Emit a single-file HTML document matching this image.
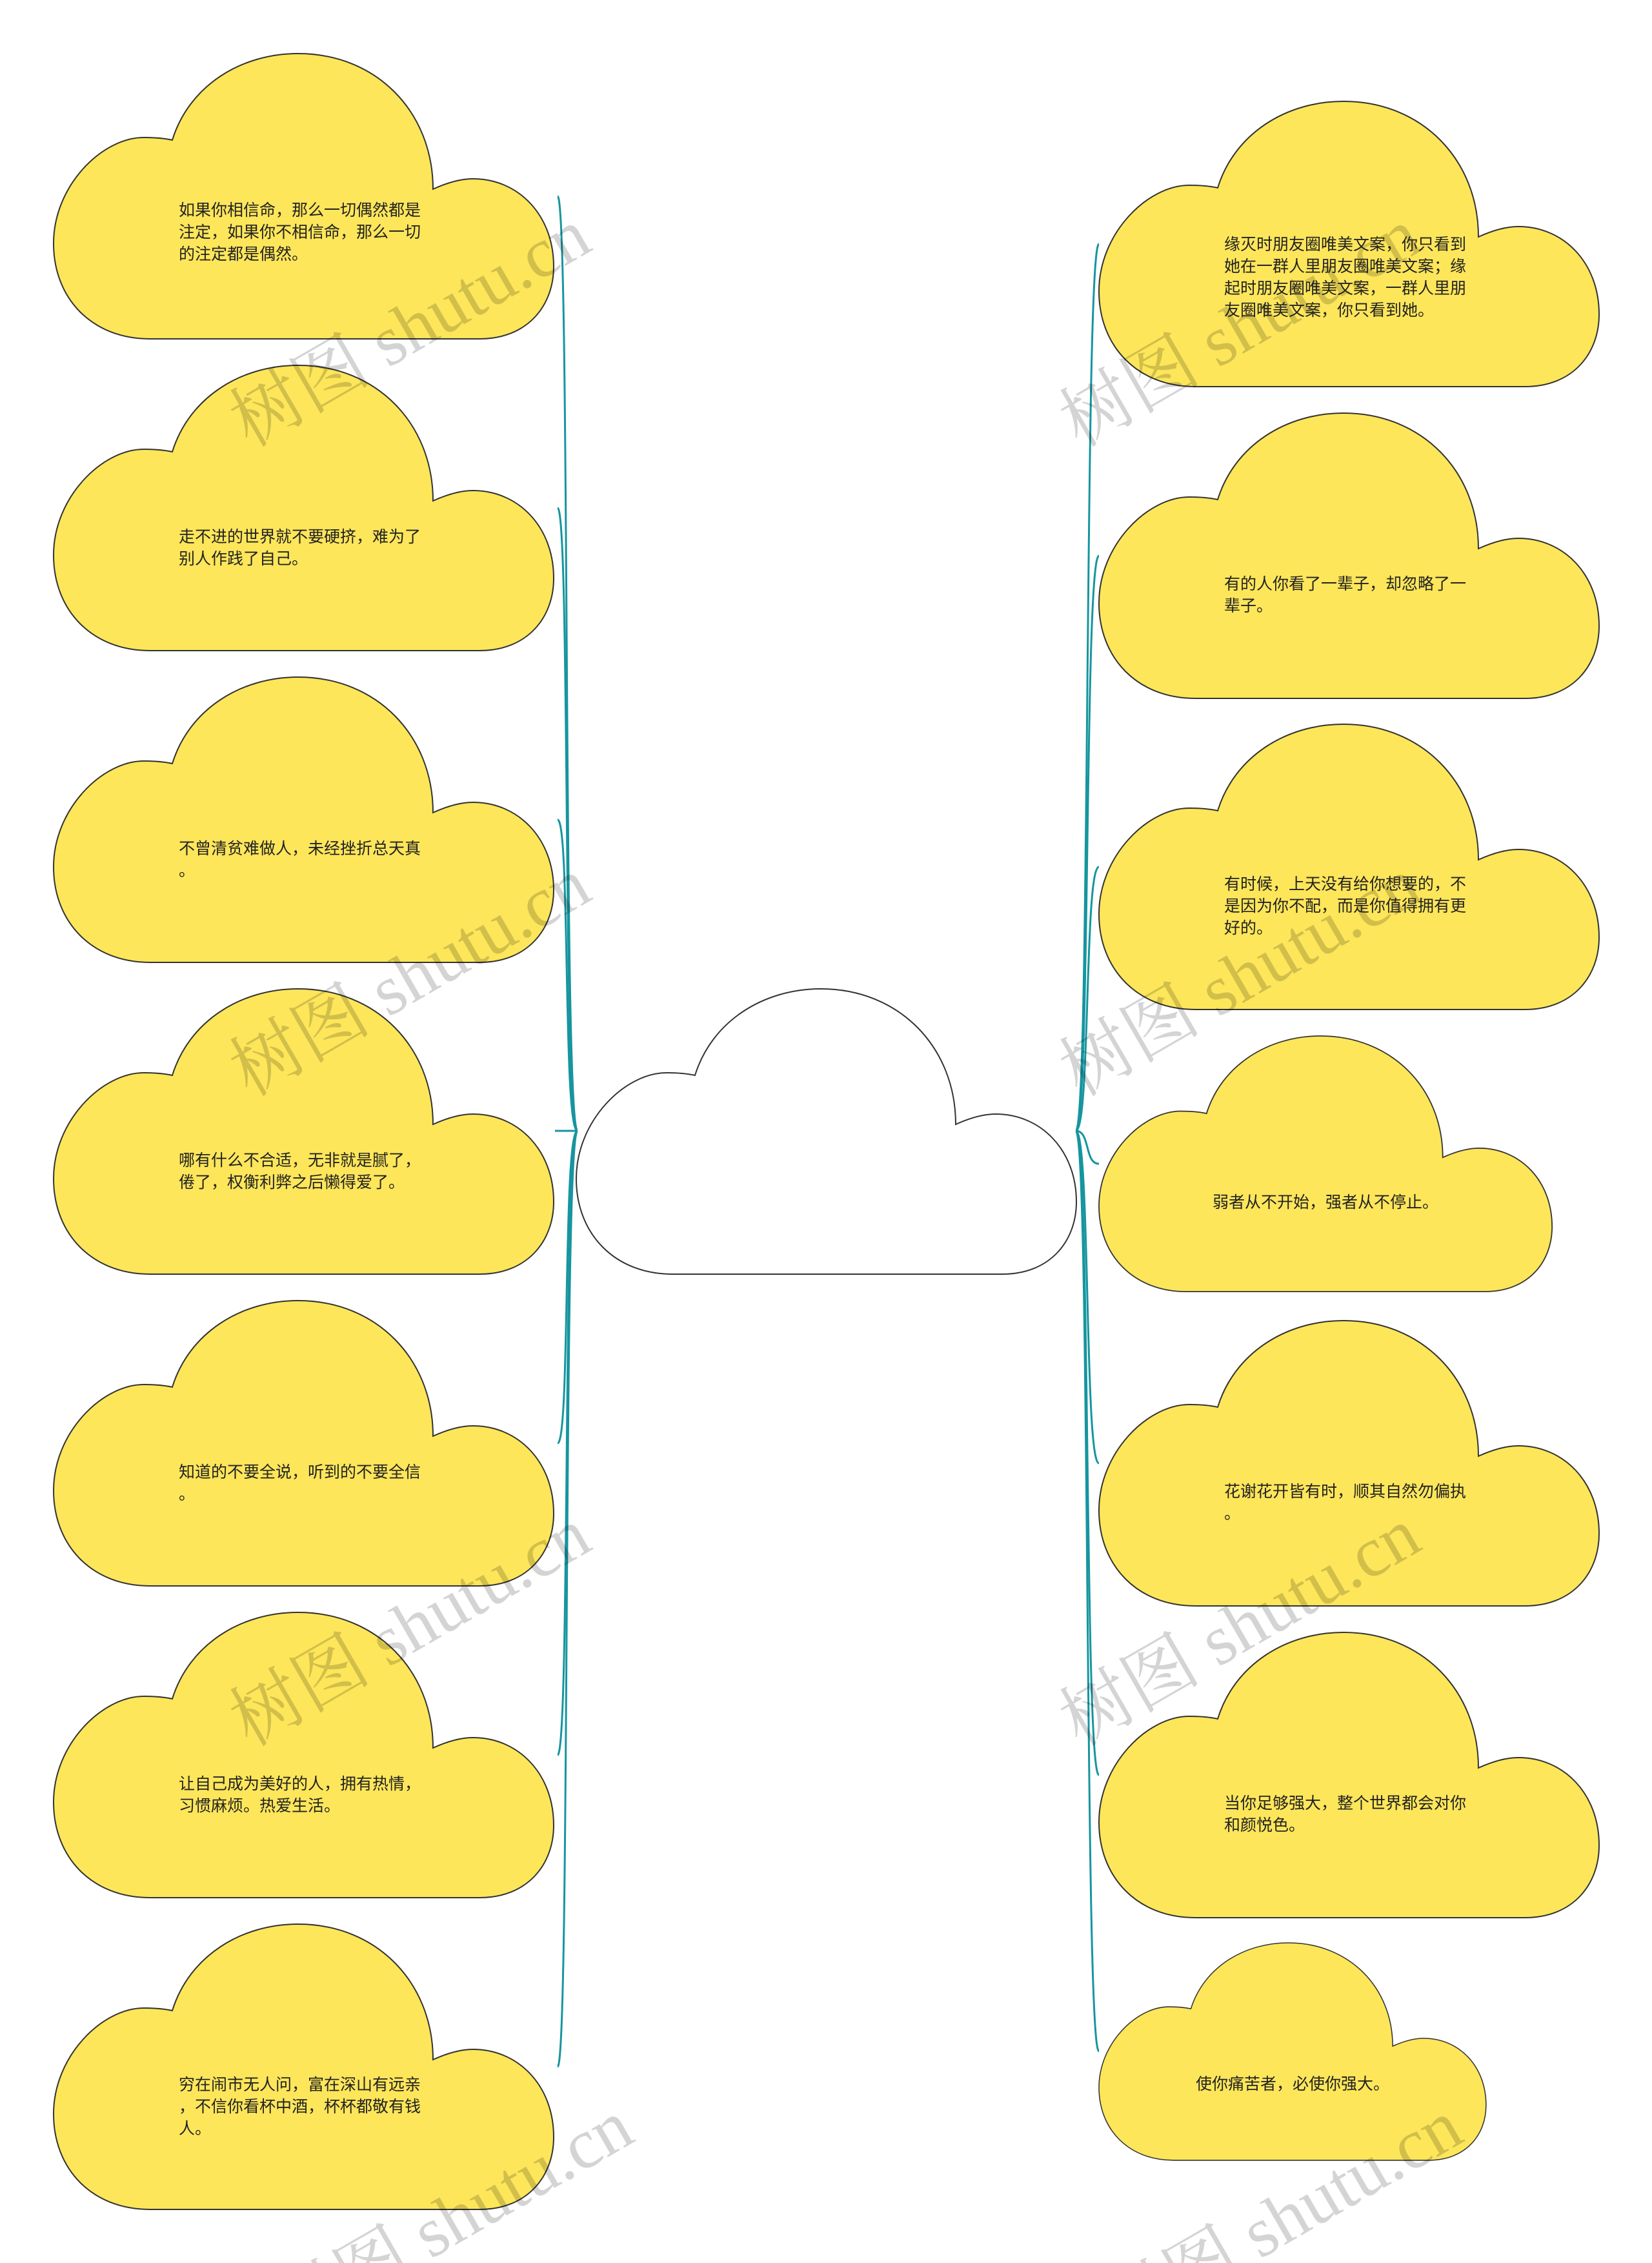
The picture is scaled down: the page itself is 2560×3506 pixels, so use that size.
<!DOCTYPE html>
<html><head><meta charset="utf-8">
<style>
html,body{margin:0;padding:0;background:#fff;}
body{width:2560px;height:3506px;position:relative;overflow:hidden;}
svg{position:absolute;left:0;top:0;}
.t{position:absolute;font-family:"Liberation Sans","Noto Sans CJK SC",sans-serif;font-size:25px;line-height:34px;color:#222;white-space:nowrap;transform:translateY(-50%);}
</style></head><body>
<svg width="2560" height="3506" viewBox="0 0 2560 3506">
<defs>
<path id="cl" d="M149,442 C60,442 0,380 0,294 C0,205 75,130 140,130 C160,130 175,132 184,134 C210,50 290,0 379,0 C500,0 588,90 588,210 C610,200 630,194 650,194 C720,194 775,250 775,330 C775,390 735,442 660,442 Z"/>
</defs>
<g fill="none" stroke="#16959f" stroke-width="3">
<path d="M895,1752 C872,1752 884,304 864,304"/>
<path d="M895,1752 C872,1752 884,787 864,787"/>
<path d="M895,1752 C872,1752 884,1270 864,1270"/>
<path d="M860,1752 L895,1752"/>
<path d="M895,1752 C872,1752 884,2236 864,2236"/>
<path d="M895,1752 C872,1752 884,2719 864,2719"/>
<path d="M895,1752 C872,1752 884,3202 864,3202"/>
<path d="M1667,1752 C1690,1752 1680,378 1703,378"/>
<path d="M1667,1752 C1690,1752 1680,861 1703,861"/>
<path d="M1667,1752 C1690,1752 1680,1343 1703,1343"/>
<path d="M1667,1752 C1690,1752 1680,1803 1703,1803"/>
<path d="M1667,1752 C1690,1752 1680,2267 1703,2267"/>
<path d="M1667,1752 C1690,1752 1680,2750 1703,2750"/>
<path d="M1667,1752 C1690,1752 1680,3178 1703,3178"/>
</g>
<g stroke="#333" stroke-width="2" fill="#fde65a">
<use href="#cl" transform="translate(83,83)"/>
<use href="#cl" transform="translate(83,566)"/>
<use href="#cl" transform="translate(83,1049)"/>
<use href="#cl" transform="translate(83,1532)"/>
<use href="#cl" transform="translate(83,2015)"/>
<use href="#cl" transform="translate(83,2498)"/>
<use href="#cl" transform="translate(83,2981)"/>
<use href="#cl" transform="translate(1703,157)"/>
<use href="#cl" transform="translate(1703,640)"/>
<use href="#cl" transform="translate(1703,1122)"/>
<use href="#cl" transform="translate(1703,1605) scale(0.906,0.896)"/>
<use href="#cl" transform="translate(1703,2046)"/>
<use href="#cl" transform="translate(1703,2529)"/>
<use href="#cl" transform="translate(1703,3010) scale(0.774,0.762)"/>
</g>
<use href="#cl" transform="translate(893,1532)" fill="#fff" stroke="#333" stroke-width="2"/>
<g font-family="'Liberation Serif','Noto Serif CJK SC',serif" font-size="110" fill="rgba(0,0,0,0.17)" text-anchor="middle">
<text transform="translate(654,540) rotate(-30)">树图 shutu.cn</text>
<text transform="translate(654,1546) rotate(-30)">树图 shutu.cn</text>
<text transform="translate(654,2553) rotate(-30)">树图 shutu.cn</text>
<text transform="translate(720,3470) rotate(-30)">树图 shutu.cn</text>
<text transform="translate(1940,540) rotate(-30)">树图 shutu.cn</text>
<text transform="translate(1940,1546) rotate(-30)">树图 shutu.cn</text>
<text transform="translate(1940,2553) rotate(-30)">树图 shutu.cn</text>
<text transform="translate(2005,3470) rotate(-30)">树图 shutu.cn</text>
</g>
</svg>
<div class="t" style="left:277px;top:360px">如果你相信命，那么一切偶然都是<br>注定，如果你不相信命，那么一切<br>的注定都是偶然。</div>
<div class="t" style="left:277px;top:849px">走不进的世界就不要硬挤，难为了<br>别人作践了自己。</div>
<div class="t" style="left:277px;top:1332px">不曾清贫难做人，未经挫折总天真<br>。</div>
<div class="t" style="left:277px;top:1815px">哪有什么不合适，无非就是腻了，<br>倦了，权衡利弊之后懒得爱了。</div>
<div class="t" style="left:277px;top:2298px">知道的不要全说，听到的不要全信<br>。</div>
<div class="t" style="left:277px;top:2781px">让自己成为美好的人，拥有热情，<br>习惯麻烦。热爱生活。</div>
<div class="t" style="left:277px;top:3264px">穷在闹市无人问，富在深山有远亲<br>，不信你看杯中酒，杯杯都敬有钱<br>人。</div>
<div class="t" style="left:1897px;top:430px">缘灭时朋友圈唯美文案，你只看到<br>她在一群人里朋友圈唯美文案；缘<br>起时朋友圈唯美文案，一群人里朋<br>友圈唯美文案，你只看到她。</div>
<div class="t" style="left:1897px;top:922px">有的人你看了一辈子，却忽略了一<br>辈子。</div>
<div class="t" style="left:1897px;top:1404px">有时候，上天没有给你想要的，不<br>是因为你不配，而是你值得拥有更<br>好的。</div>
<div class="t" style="left:1879px;top:1863px">弱者从不开始，强者从不停止。</div>
<div class="t" style="left:1897px;top:2328px">花谢花开皆有时，顺其自然勿偏执<br>。</div>
<div class="t" style="left:1897px;top:2811px">当你足够强大，整个世界都会对你<br>和颜悦色。</div>
<div class="t" style="left:1853px;top:3229px">使你痛苦者，必使你强大。</div>
</body></html>
